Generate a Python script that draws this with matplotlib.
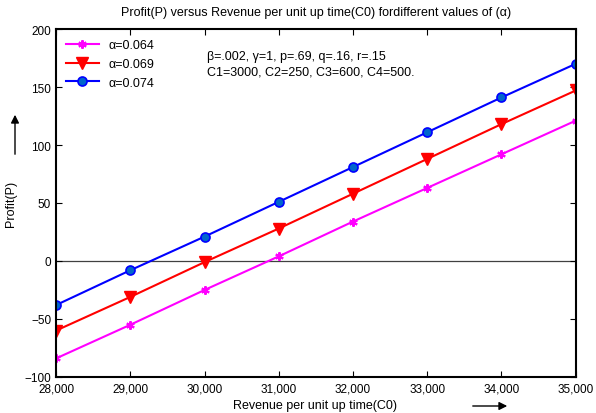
import matplotlib
matplotlib.use("Agg")
import matplotlib.pyplot as plt
from matplotlib.ticker import FuncFormatter

plt.rcParams['font.family'] = ['Liberation Sans', 'DejaVu Sans']

revenue = [28000, 29000, 30000, 31000, 32000, 33000, 34000, 35000]
profit_064 = [-84, -55, -25, 4, 34, 63, 92, 121]
profit_069 = [-60, -31, -1, 28, 58, 88, 118, 147]
profit_074 = [-38, -8, 21, 51, 81, 111, 141, 170]
labels = ['α=0.064', 'α=0.069', 'α=0.074']

fig = plt.figure(figsize=(5.96, 4.14), dpi=100)
ax = fig.add_axes([0.094, 0.087, 0.872, 0.8405])

ax.axhline(0, color='#404040', lw=0.9, zorder=1)
ax.plot(revenue, profit_064, color='#ff00ff', lw=1.5, marker=(6, 2, 0), ms=6, mew=1.5, label=labels[0])
ax.plot(revenue, profit_069, color='#ff0000', lw=1.5, marker='v', ms=8, label=labels[1])
ax.plot(revenue, profit_074, color='#0000ff', lw=1.5, marker='o', ms=6.5, mfc='#0066cc', mec='#0000ff', mew=1.2, label=labels[2])

ax.set_xlim(28000, 35000)
ax.set_ylim(-100, 200)
ax.set_xticks(revenue)
ax.set_yticks(range(-100, 201, 50))
ax.xaxis.set_major_formatter(FuncFormatter(lambda v, p: f'{int(v):,}'))
ax.tick_params(direction='in', top=True, right=True, labelsize=8.5, length=4, width=0.8)
ax.tick_params(axis='x', pad=4)
for s in ax.spines.values():
    s.set_linewidth(1.5)

ax.set_title('Profit(P) versus Revenue per unit up time(C0) fordifferent values of (α)', fontsize=9, pad=10)
fig.text(315/596, 1 - 406/414, 'Revenue per unit up time(C0)', fontsize=9, ha='center', va='center')
ax.set_ylabel('Profit(P)', fontsize=9, labelpad=5)

leg = ax.legend(loc='upper left', frameon=False, fontsize=9, handlelength=2.6, borderaxespad=0.4, labelspacing=0.55)

ax.text(0.29, 0.94, 'β=.002, γ=1, p=.69, q=.16, r=.15\nC1=3000, C2=250, C3=600, C4=500.',
        transform=ax.transAxes, fontsize=9, va='top', ha='left', linespacing=1.35)

# arrows next to axis labels
ax.annotate('', xy=(510/596, 1 - 407/414), xytext=(470/596, 1 - 407/414), xycoords='figure fraction',
            arrowprops=dict(arrowstyle='-|>', color='black', lw=1, mutation_scale=12))
ax.annotate('', xy=(15/596, 1 - 113/414), xytext=(15/596, 1 - 158/414), xycoords='figure fraction',
            arrowprops=dict(arrowstyle='-|>', color='black', lw=1, mutation_scale=12))

fig.savefig('out.png', dpi=100)
